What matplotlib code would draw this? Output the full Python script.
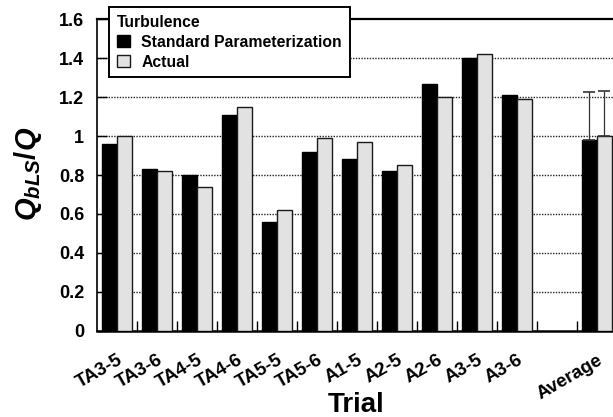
import numpy as np
import matplotlib
matplotlib.use("Agg")
import matplotlib.pyplot as plt
from matplotlib.patches import Patch

# Trials and the two turbulence series
trials = ["TA3-5", "TA3-6", "TA4-5", "TA4-6", "TA5-5", "TA5-6",
          "A1-5", "A2-5", "A2-6", "A3-5", "A3-6", "Average"]
standard = [0.96, 0.83, 0.80, 1.11, 0.56, 0.92, 0.88, 0.82, 1.27, 1.40, 1.21, 0.98]
actual = [1.00, 0.82, 0.74, 1.15, 0.62, 0.99, 0.97, 0.85, 1.20, 1.42, 1.19, 1.00]
# upper error of the averages
standard_err = [0, 0, 0, 0, 0, 0, 0, 0, 0, 0, 0, 0.245]
actual_err = [0, 0, 0, 0, 0, 0, 0, 0, 0, 0, 0, 0.23]
y_ticks = [0, 0.2, 0.4, 0.6, 0.8, 1.0, 1.2, 1.4, 1.6]
y_tick_labels = ["0", "0.2", "0.4", "0.6", "0.8", "1", "1.2", "1.4", "1.6"]

plt.rcParams["font.family"] = ["Liberation Sans", "DejaVu Sans"]
plt.rcParams["font.weight"] = "bold"
plt.rcParams["mathtext.fontset"] = "custom"
plt.rcParams["mathtext.it"] = "Liberation Sans:bold:italic"
plt.rcParams["mathtext.rm"] = "Liberation Sans:bold"
plt.rcParams["mathtext.bf"] = "Liberation Sans:bold"

W, H = 613, 417
fig = plt.figure(figsize=(W / 100, H / 100), dpi=100)
fig.patch.set_facecolor("white")

# axes deliberately run a little past the right edge of the canvas
ax = fig.add_axes([96.7 / W, 1 - 330.7 / H, 520 / W, 311.4 / H])

# an empty slot separates the trials from the average
pos = np.r_[np.arange(len(trials) - 1), len(trials)].astype(float)
bw = 0.375

gray = "#e2e2e2"
ax.bar(pos - bw / 2, standard, width=bw, color="black", edgecolor="black",
       linewidth=1.0, zorder=3)
ax.bar(pos + bw / 2, actual, width=bw, color=gray, edgecolor="#1a1a1a",
       linewidth=1.0, zorder=3)

# upper-only error bars
s_err = np.array(standard_err)
a_err = np.array(actual_err)
m = s_err > 0
ax.errorbar(pos[m] - bw / 2, np.array(standard)[m],
            yerr=[np.zeros(m.sum()), s_err[m]], fmt="none", ecolor="#333333",
            elinewidth=0.9, capsize=4.6, capthick=1.2, zorder=4)
m = a_err > 0
ax.errorbar(pos[m] + bw / 2, np.array(actual)[m],
            yerr=[np.zeros(m.sum()), a_err[m]], fmt="none", ecolor="#333333",
            elinewidth=0.9, capsize=4.6, capthick=1.2, zorder=4)

ax.set_xlim(-0.5, len(trials) + 0.5)
ax.set_ylim(0, 1.6)

# dotted horizontal grid
for y in y_ticks[1:-1]:
    ax.axhline(y, color="#222222", linewidth=1.0, linestyle=(0, (1, 1)),
               zorder=1)

ax.set_yticks(y_ticks)
ax.set_yticklabels(y_tick_labels, fontsize=13, fontweight="bold")
ax.tick_params(axis="y", direction="in", length=7, width=1.0, pad=9)

ax.set_xticks(pos)
ax.set_xticklabels(trials, fontsize=13.5, fontweight="bold", rotation=30,
                   ha="right", va="top", rotation_mode="anchor")
ax.tick_params(axis="x", which="major", length=0, pad=15)
ax.set_xticks(np.arange(0.5, len(trials) - 0.4, 1.0), minor=True)
ax.tick_params(axis="x", which="minor", direction="in", length=7, width=1.0)

for side in ("top", "bottom", "left", "right"):
    ax.spines[side].set_color("black")
ax.spines["top"].set_linewidth(1.6)
ax.spines["bottom"].set_linewidth(1.8)
ax.spines["left"].set_linewidth(1.2)

fig.text(356 / W, 1 - 411.5 / H, "Trial", ha="center", va="baseline",
         fontsize=20, fontweight="bold")
fig.text(28 / W, 1 - 174 / H, r"$Q_{bLS}/Q$", rotation=90, ha="center",
         va="center", fontsize=21)

handles = [Patch(facecolor="black", edgecolor="black", linewidth=1.0),
           Patch(facecolor=gray, edgecolor="#1a1a1a", linewidth=1.0)]
leg = fig.legend(handles, ["Standard Parameterization", "Actual"],
                 title="Turbulence", loc="upper left",
                 bbox_to_anchor=(109.3 / W, 1 - 7.3 / H),
                 bbox_transform=fig.transFigure,
                 prop={"size": 11.3, "weight": "bold"},
                 title_fontproperties={"size": 11.3, "weight": "bold"},
                 alignment="left", fancybox=False, framealpha=1,
                 edgecolor="black", facecolor="white",
                 handlelength=0.8, handleheight=0.8, handletextpad=0.75,
                 labelspacing=0.3, borderpad=0.5, borderaxespad=0)
leg.get_frame().set_linewidth(1.4)

fig.savefig("out.png", dpi=100, facecolor="white")
